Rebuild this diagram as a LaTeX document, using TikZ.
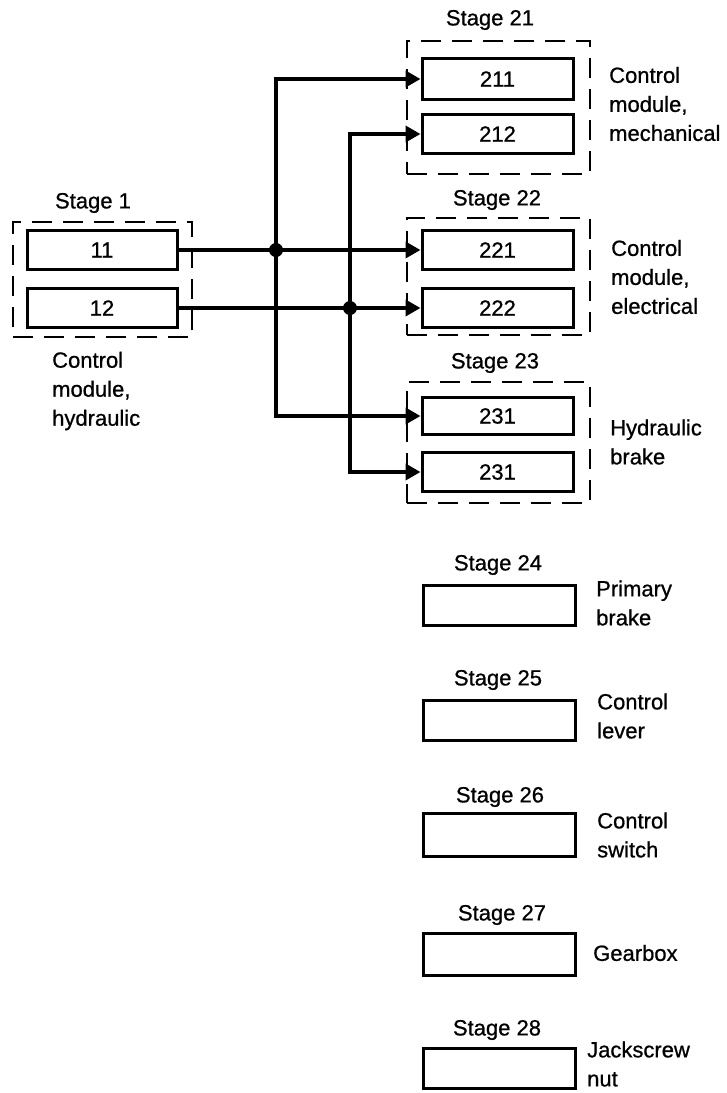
\documentclass[tikz,border=0pt]{standalone}
\usepackage{fontspec}
\setmainfont{Liberation Sans}[FakeBold=0.8]
\usetikzlibrary{arrows.meta}
\begin{document}
\begin{tikzpicture}[x=1pt,y=-1pt,
  font=\fontsize{22}{29}\selectfont,
  box/.style={draw, line width=3pt, minimum width=151pt, minimum height=39pt, inner sep=0pt},
  group/.style={draw, line width=2.6pt, dash pattern=on 20pt off 11pt, inner sep=0pt},
  lbl/.style={anchor=west, align=left, inner sep=0pt},
  stg/.style={inner sep=0pt},
  conn/.style={line width=3.6pt},
  arr/.style={conn, -{Triangle[length=15pt,width=16pt]}}]
\useasboundingbox (0,0) rectangle (727,1093);
% Stage 1
\node[group, minimum width=179pt, minimum height=115pt] (s1) at (102.5,279.5) {};
\node[box, minimum width=150pt] (b11) at (102,250) {11};
\node[box, minimum width=150pt] (b12) at (102,308) {12};
\node[stg] (t1) at (93,203) {Stage 1};
\node[lbl] (l1) at (52,391) {Control\\module,\\hydraulic};
% Stage 21
\node[group, minimum width=183pt, minimum height=133pt] (s21) at (498.5,107.5) {};
\node[box, minimum height=41pt] (b211) at (497.5,79) {211};
\node[box] (b212) at (497.5,134) {212};
\node[stg] (t21) at (490,20) {Stage 21};
\node[lbl] (l21) at (609,104) {Control\\module,\\mechanical};
% Stage 22
\node[group, minimum width=183pt, minimum height=117pt] (s22) at (498.5,276.5) {};
\node[box] (b221) at (497.5,250) {221};
\node[box] (b222) at (497.5,308) {222};
\node[stg] (t22) at (497,200) {Stage 22};
\node[lbl] (l22) at (611,277) {Control\\module,\\electrical};
% Stage 23
\node[group, minimum width=183pt, minimum height=121pt] (s23) at (498.5,442.5) {};
\node[box, minimum height=37pt] (b231a) at (497.5,416) {231};
\node[box] (b231b) at (497.5,472) {231};
\node[stg] (t23) at (495,363) {Stage 23};
\node[lbl] (l23) at (610,442) {Hydraulic\\brake};
% Stages 24-28
\node[box, minimum width=152pt, minimum height=40pt] (b24) at (499,605) {};
\node[stg] (t24) at (498,565) {Stage 24};
\node[lbl] (l24) at (596,603) {Primary\\brake};
\node[box, minimum width=152pt, minimum height=40pt] (b25) at (499,720) {};
\node[stg] (t25) at (498,680) {Stage 25};
\node[lbl] (l25) at (597,716) {Control\\lever};
\node[box, minimum width=152pt, minimum height=43pt] (b26) at (499,835) {};
\node[stg] (t26) at (500,797) {Stage 26};
\node[lbl] (l26) at (597,835) {Control\\switch};
\node[box, minimum width=152pt, minimum height=42pt] (b27) at (499,954) {};
\node[stg] (t27) at (502,915) {Stage 27};
\node[lbl] (l27) at (593,953) {Gearbox};
\node[box, minimum width=152pt, minimum height=40pt] (b28) at (499,1068) {};
\node[stg] (t28) at (497,1030) {Stage 28};
\node[lbl] (l28) at (587,1064) {Jackscrew\\nut};
% connectors
\coordinate (j1) at (276,250);
\coordinate (j2) at (350,308);
\draw[arr] (b11.east) -- (b221.west);
\draw[arr] (b12.east) -- (b222.west);
\draw[arr] (j1) |- (b211.west);
\draw[arr] (j1) |- (b231a.west);
\draw[arr] (j2) |- (b212.west);
\draw[arr] (j2) |- (b231b.west);
\fill (j1) circle (7pt);
\fill (j2) circle (7pt);
\end{tikzpicture}
\end{document}
